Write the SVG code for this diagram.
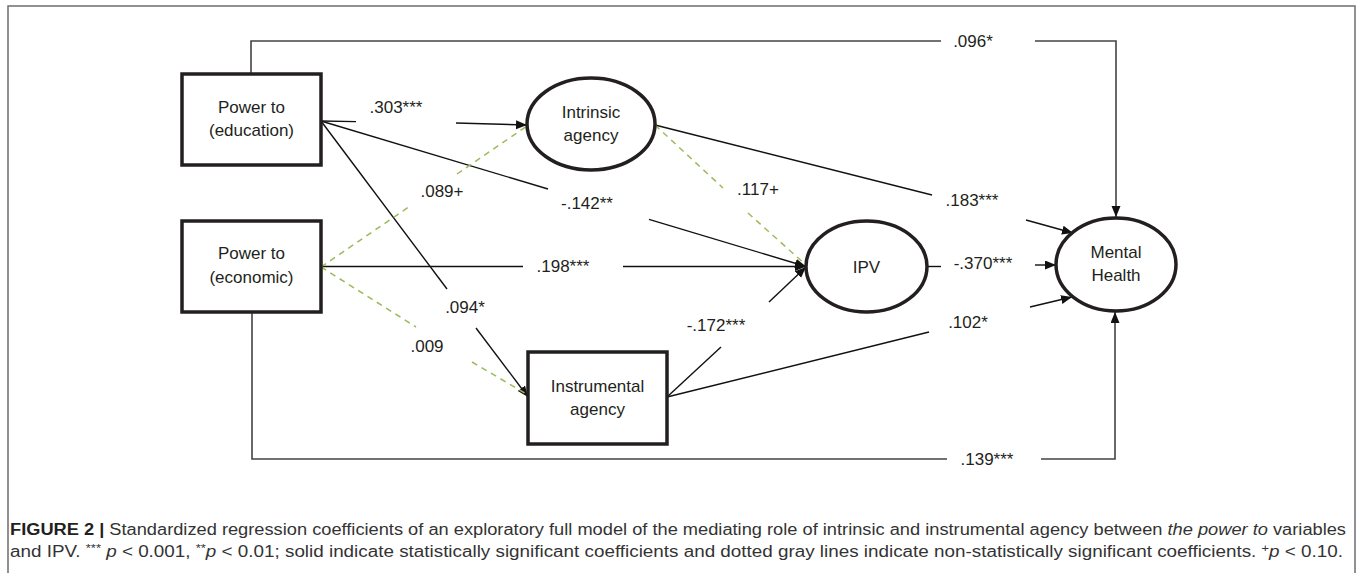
<svg xmlns="http://www.w3.org/2000/svg" width="1357" height="573" viewBox="0 0 1357 573">
<style>
  .node { fill: #fff; stroke: #231f20; stroke-width: 3.5; }
  .lbl { font-family: "Liberation Sans", Arial, sans-serif; font-size: 17px; fill: #231f20; text-anchor: middle; }
  .sol { fill: none; stroke: #111; stroke-width: 1.4; }
  .frm { fill: none; stroke: #444; stroke-width: 1.6; }
  .dsh { fill: none; stroke: #9bbb59; stroke-width: 1.5; stroke-dasharray: 6 5; }
  .cap { font-family: "Liberation Sans", Arial, sans-serif; font-size: 16px; fill: #333; }
</style>
<defs>
  <marker id="ah" markerUnits="userSpaceOnUse" markerWidth="12" markerHeight="10" refX="11" refY="4.5" orient="auto">
    <path d="M0,0 L11,4.5 L0,9 z" fill="#111"/>
  </marker>
</defs>
<rect x="8" y="6" width="1347" height="620" fill="none" stroke="#6d6e71" stroke-width="1.5"/>

<g id="connectors">
  <path class="frm" d="M251,74 V41 H941"/>
  <path class="frm" d="M1035,41 H1116 V217" marker-end="url(#ah)"/>
  <path class="frm" d="M252,312 V459 H947"/>
  <path class="frm" d="M1041,459 H1115 V312" marker-end="url(#ah)"/>
  <path class="sol" d="M321,121 L356,121.6"/>
  <path class="sol" d="M456,123 L527,125" marker-end="url(#ah)"/>
  <path class="sol" d="M321,121 L548,189"/>
  <path class="sol" d="M649,219.3 L806,266.5" marker-end="url(#ah)"/>
  <path class="sol" d="M321,121 L447,289"/>
  <path class="sol" d="M476,328 L528,397" marker-end="url(#ah)"/>
  <path class="sol" d="M321,266.5 H523"/>
  <path class="sol" d="M623,266.5 H806" marker-end="url(#ah)"/>
  <path class="sol" d="M667,397 L721,347"/>
  <path class="sol" d="M769,302 L806,267" marker-end="url(#ah)"/>
  <path class="sol" d="M655,125 L932,195"/>
  <path class="sol" d="M1026,220 L1073,233" marker-end="url(#ah)"/>
  <path class="sol" d="M927,266.5 H941"/>
  <path class="sol" d="M1035,265 H1056" marker-end="url(#ah)"/>
  <path class="sol" d="M667,397 L929,332"/>
  <path class="sol" d="M1030,307 L1072,297" marker-end="url(#ah)"/>
  <path class="dsh" d="M321,267 L408,207.5"/>
  <path class="dsh" d="M457,174 L527,126"/>
  <path class="dsh" d="M321,267 L416,327"/>
  <path class="dsh" d="M472,362 L528,395"/>
  <path class="dsh" d="M655,125 L723,188"/>
  <path class="dsh" d="M748,213 L806,265"/>
  <text class="lbl" x="396" y="113">.303***</text>
  <text class="lbl" x="973" y="47">.096*</text>
  <text class="lbl" x="587" y="209">-.142**</text>
  <text class="lbl" x="442" y="197">.089+</text>
  <text class="lbl" x="758" y="195">.117+</text>
  <text class="lbl" x="972" y="206">.183***</text>
  <text class="lbl" x="563" y="272">.198***</text>
  <text class="lbl" x="983" y="269">-.370***</text>
  <text class="lbl" x="465" y="313">.094*</text>
  <text class="lbl" x="427" y="352">.009</text>
  <text class="lbl" x="716" y="331">-.172***</text>
  <text class="lbl" x="968" y="328">.102*</text>
  <text class="lbl" x="987" y="465">.139***</text>
</g>

<g id="power-education">
  <rect class="node" x="182" y="74" width="139" height="91"/>
  <text class="lbl" x="251.5" y="113">Power to</text>
  <text class="lbl" x="251.5" y="136">(education)</text>
</g>
<g id="power-economic">
  <rect class="node" x="182" y="221" width="139" height="91"/>
  <text class="lbl" x="251.5" y="259">Power to</text>
  <text class="lbl" x="251.5" y="283">(economic)</text>
</g>
<g id="intrinsic-agency">
  <ellipse class="node" cx="591" cy="124" rx="64" ry="46"/>
  <text class="lbl" x="591" y="118">Intrinsic</text>
  <text class="lbl" x="591" y="141">agency</text>
</g>
<g id="instrumental-agency">
  <rect class="node" x="528" y="352" width="139" height="92"/>
  <text class="lbl" x="597.5" y="392">Instrumental</text>
  <text class="lbl" x="597.5" y="415">agency</text>
</g>
<g id="ipv">
  <ellipse class="node" cx="866.5" cy="266.5" rx="60.5" ry="45.5"/>
  <text class="lbl" x="866.5" y="272.5">IPV</text>
</g>
<g id="mental-health">
  <ellipse class="node" cx="1116" cy="264.5" rx="60" ry="46.5"/>
  <text class="lbl" x="1116" y="258">Mental</text>
  <text class="lbl" x="1116" y="281">Health</text>
</g>

<g id="caption">
  <text class="cap" x="10" y="535" textLength="1336" lengthAdjust="spacingAndGlyphs"><tspan font-weight="bold" fill="#231f20">FIGURE 2 | </tspan>Standardized regression coefficients of an exploratory full model of the mediating role of intrinsic and instrumental agency between <tspan font-style="italic">the power to</tspan> variables</text>
  <text class="cap" x="10" y="557" textLength="1333" lengthAdjust="spacingAndGlyphs">and IPV. <tspan font-size="11" dy="-5">***</tspan><tspan dy="5"> </tspan><tspan font-style="italic">p</tspan> &lt; 0.001, <tspan font-size="11" dy="-5">**</tspan><tspan dy="5" font-style="italic">p</tspan> &lt; 0.01; solid indicate statistically significant coefficients and dotted gray lines indicate non-statistically significant coefficients. <tspan font-size="11" dy="-5">+</tspan><tspan dy="5" font-style="italic">p</tspan> &lt; 0.10.</text>
</g>
</svg>
